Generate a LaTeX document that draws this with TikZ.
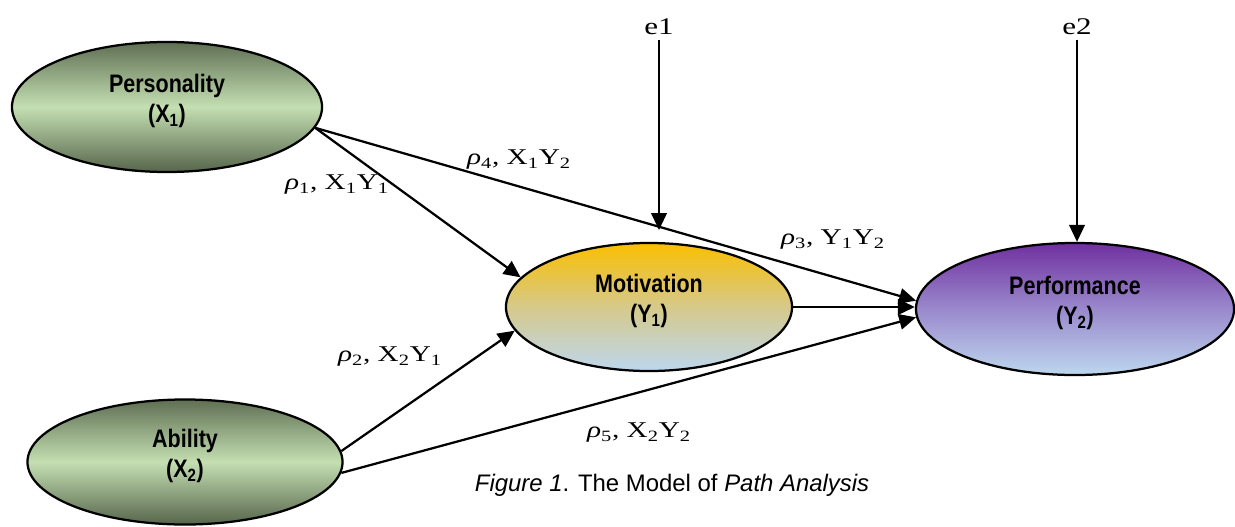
\documentclass[tikz,border=0pt]{standalone}
\usepackage{fontspec}
\setmainfont{Liberation Serif}
\setsansfont{Liberation Sans}
\newfontfamily\varfont[FakeStretch=0.85]{Liberation Sans}
\newfontfamily\coeffont[FakeStretch=1.3]{Liberation Serif}
\usetikzlibrary{shapes.geometric,arrows.meta}

\definecolor{olivetop}{HTML}{5F6F53}
\definecolor{olivemid}{HTML}{C4DFB2}
\definecolor{olivebot}{HTML}{56654B}
\definecolor{ambertop}{HTML}{FABF00}
\definecolor{ambermid}{HTML}{D6C98A}
\definecolor{skybot}{HTML}{BDD7EE}
\definecolor{plumtop}{HTML}{7030A0}
\definecolor{plummid}{HTML}{9A89CC}

\begin{document}
\begin{tikzpicture}[x=0.025cm, y=-0.025cm,
    var/.style={ellipse, draw, line width=1.6pt, align=center, text depth=12pt,
        font=\varfont\bfseries\fontsize{18}{21.5}\selectfont},
    link/.style={-{Triangle[length=12pt,width=11pt]}, line width=1.6pt},
    coef/.style={font=\coeffont\fontsize{16}{18}\selectfont}]
    \useasboundingbox (0,0) rectangle (1235,526);

    % Exogenous variables (green)
    \node[var, minimum width=7.75cm, minimum height=3.25cm,
        top color=olivetop, bottom color=olivebot, middle color=olivemid]
        (pers) at (167,107) {Personality\\(X\textsubscript{1})};
    \node[var, minimum width=7.875cm, minimum height=3.125cm,
        top color=olivetop, bottom color=olivebot, middle color=olivemid]
        (abil) at (185,462) {Ability\\(X\textsubscript{2})};

    % Endogenous variables
    \node[var, minimum width=7.15cm, minimum height=3.2cm,
        top color=ambertop, bottom color=skybot, middle color=ambermid]
        (mot) at (649,307) {Motivation\\(Y\textsubscript{1})};
    \node[var, minimum width=7.95cm, minimum height=3.3cm,
        top color=plumtop, bottom color=skybot, middle color=plummid]
        (perf) at (1075,309) {Performance\\(Y\textsubscript{2})};

    % Error terms
    \node[coef, font=\coeffont\fontsize{17}{19}\selectfont] (e1) at (659,27) {e1};
    \node[coef, font=\coeffont\fontsize{17}{19}\selectfont] (e2) at (1077,27) {e2};
    \coordinate (e1end) at (659,230);

    % Paths
    \draw[link] (pers.-8) -- (mot.167);
    \draw[link] (pers.-8) -- (perf.177);
    \draw[link] (abil.4) -- (mot.190);
    \draw[link] (abil.-4) -- (perf.183);
    \draw[link] (mot.east) -- (mot.east -| perf.west);
    \draw[link] (e1.south) -- (e1end);
    \draw[link] (e2.south) -- (e2.south |- perf.north);

    % Path coefficients
    \node[coef] (r1) at (337,185) {{\itshape ρ}\textsubscript{1}, X\textsubscript{1}Y\textsubscript{1}};
    \node[coef] (r4) at (519,160) {{\itshape ρ}\textsubscript{4}, X\textsubscript{1}Y\textsubscript{2}};
    \node[coef] (r3) at (833,240) {{\itshape ρ}\textsubscript{3}, Y\textsubscript{1}Y\textsubscript{2}};
    \node[coef] (r2) at (390,357) {{\itshape ρ}\textsubscript{2}, X\textsubscript{2}Y\textsubscript{1}};
    \node[coef] (r5) at (639,433) {{\itshape ρ}\textsubscript{5}, X\textsubscript{2}Y\textsubscript{2}};

    % Caption
    \node[font=\sffamily\fontsize{17}{20}\selectfont] (cap) at (672,485)
        {\textit{Figure 1}. The Model of \textit{Path Analysis}};
\end{tikzpicture}
\end{document}
